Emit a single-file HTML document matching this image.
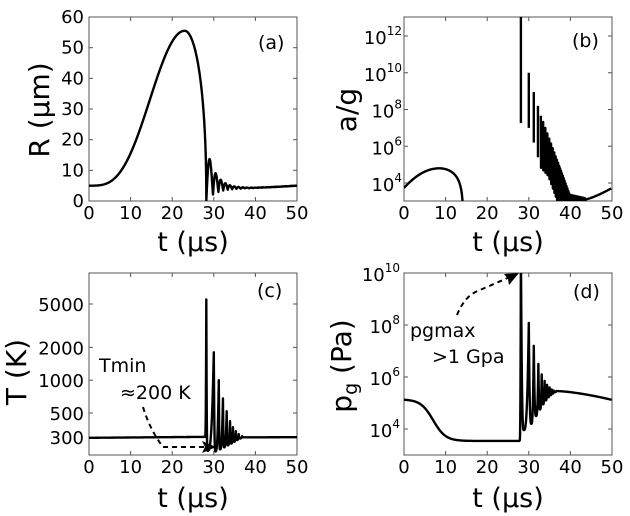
<!DOCTYPE html>
<html><head><meta charset="utf-8"><style>
html,body{margin:0;padding:0;background:#fff}
svg{display:block}
text{font-family:"DejaVu Sans","Liberation Sans",sans-serif;fill:#000}
</style></head><body>
<svg id="s" width="630" height="516" viewBox="0 0 630 516" xmlns="http://www.w3.org/2000/svg">
<defs>
<clipPath id="cA"><rect x="89" y="17" width="208" height="184"/></clipPath>
<clipPath id="cB"><rect x="404" y="17" width="208" height="184"/></clipPath>
<clipPath id="cC"><rect x="89" y="273" width="208" height="182"/></clipPath>
<clipPath id="cD"><rect x="404" y="273" width="208" height="182"/></clipPath>
</defs>
<g id="g"></g>
<text x="258" y="49" font-size="19">(a)</text>
<text x="572" y="47" font-size="19">(b)</text>
<text x="257" y="297" font-size="19">(c)</text>
<text x="573" y="298" font-size="19">(d)</text>
<text x="193" y="251" font-size="27" text-anchor="middle">t (µs)</text>
<text x="508" y="251" font-size="27" text-anchor="middle">t (µs)</text>
<text x="193" y="507" font-size="27" text-anchor="middle">t (µs)</text>
<text x="508" y="507" font-size="27" text-anchor="middle">t (µs)</text>
<text transform="translate(49,110) rotate(-90)" font-size="28" text-anchor="middle">R (µm)</text>
<text transform="translate(356,110) rotate(-90)" font-size="28" text-anchor="middle">a/g</text>
<text transform="translate(26,372) rotate(-90)" font-size="28" text-anchor="middle">T (K)</text>
<text transform="translate(351,366) rotate(-90)" font-size="28" text-anchor="middle">p<tspan font-size="19" dy="6">g</tspan><tspan dy="-6"> (Pa)</tspan></text>
<text x="99" y="372" font-size="19">Tmin</text>
<text x="120" y="399" font-size="19">≈200 K</text>
<path d="M143,407 Q150,430 163,447 L207,447" fill="none" stroke="#000" stroke-width="2" stroke-dasharray="5,4"/>
<polygon points="216,447 202,441 205,447 202,453" fill="#000"/>
<text x="410" y="337" font-size="19">pgmax</text>
<text x="432" y="363" font-size="19">&gt;1 Gpa</text>
<path d="M457,315 Q465,295 480,290 L510,277" fill="none" stroke="#000" stroke-width="2" stroke-dasharray="5,4"/>
<polygon points="519,273 504,274 508,279 509,285" fill="#000"/>
</svg>
<script>
(function(){
var NS="http://www.w3.org/2000/svg",G=document.getElementById('g');
function el(n,a,p){var e=document.createElementNS(NS,n);for(var k in a)e.setAttribute(k,a[k]);(p||G).appendChild(e);return e;}
function txt(x,y,s,anchor,fs){var e=el('text',{x:x,y:y,'font-size':fs||18,'text-anchor':anchor||'middle'});e.textContent=s;return e;}
function pow10(x,y,ex){var e=el('text',{x:x,y:y,'font-size':18,'text-anchor':'end'});e.innerHTML='10<tspan font-size="12" dy="-9">'+ex+'</tspan>';}
var P={A:[89,297,17,201],B:[404,612,17,201],C:[89,297,273,455],D:[404,612,273,455]};
function frame(p,yt){var x0=p[0],x1=p[1],y0=p[2],y1=p[3];
 el('rect',{x:x0,y:y0,width:x1-x0,height:y1-y0,fill:'none',stroke:'#555',"stroke-width":1});
 for(var i=0;i<=5;i++){var x=x0+(x1-x0)*i/5;el('line',{x1:x,y1:y1,x2:x,y2:y1-4,stroke:'#555'});el('line',{x1:x,y1:y0,x2:x,y2:y0+4,stroke:'#555'});txt(x,y1+18,String(i*10));}
 yt.forEach(function(y){el('line',{x1:x0,y1:y,x2:x0+4,y2:y,stroke:'#555'});el('line',{x1:x1,y1:y,x2:x1-4,y2:y,stroke:'#555'});});}
frame(P.A,[201,170.3,139.7,109,78.3,47.7,17]);
[0,10,20,30,40,50,60].forEach(function(v,i){txt(84,201-i*30.67+6,String(v),'end');});
var yB=function(v){return 183-(v-4)*18.375};
frame(P.B,[yB(4),yB(6),yB(8),yB(10),yB(12)]);
[4,6,8,10,12].forEach(function(v){pow10(402,yB(v)+8,v)});
var yC=function(T){return 304-(Math.log10(T)-Math.log10(5000))*109};
frame(P.C,[5000,2000,1000,500,300].map(yC));
[5000,2000,1000,500,300].forEach(function(v){txt(84,yC(v)+7,String(v),'end')});
var yD=function(v){return 429-(v-4)*26};
frame(P.D,[yD(4),yD(6),yD(8),yD(10)]);
[4,6,8,10].forEach(function(v){pow10(400,yD(v)+8,v)});
function path(pts,clip,p,yf){var x0=p[0],x1=p[1];var d='';pts.forEach(function(q,i){d+=(i?'L':'M')+(x0+(x1-x0)*q[0]/50).toFixed(2)+','+yf(q[1]).toFixed(2)});
 el('path',{d:d,fill:'none',stroke:'#000','stroke-width':2.4,'stroke-linejoin':'round','clip-path':'url(#'+clip+')'});}
var pa=[],t;
for(t=0;t<=23;t+=0.1){var c=(1-Math.cos(Math.PI*t/23))/2;pa.push([t,5+50.5*Math.pow(c,1.7)]);}
for(t=23;t<28.2;t+=0.02){var s=(t-23)/5.2;pa.push([t,55.5*Math.pow(Math.max(0,1-s*s),0.45)]);}
pa.push([28.2,0]);
var ph=0,dt=0.005;
for(t=28.2;t<=50;t+=dt){var u=t-28.2;var base=4+Math.pow(u/21.8,2);var env=Math.exp(-u/2.2);
 pa.push([t,base+env*(18*Math.abs(Math.sin(ph))-base)]);ph+=Math.PI*dt/(1.0+0.9*Math.exp(-u/2));}
path(pa,'cA',P.A,function(v){return 201-v*184/60});
var pb=[];
for(t=0;t<=14.5;t+=0.05){var v;if(t<8.5){v=4.8-1.07*Math.pow((8.5-t)/8.5,2);}else{var s2=(t-8.5)/5.75;v=4.8+1.5*Math.log10(Math.max(1-s2*s2,1e-4));}pb.push([t,v]);}
path(pb,'cB',P.B,yB);
[[28.1,14,7.26],[30.0,10.0,7.0],[31.2,8.95,6.2],[32.2,8.2,5.4]].forEach(function(s){path([[s[0],s[1]],[s[0],s[2]]],'cB',P.B,yB)});
var zz=[],tt=32.9,k=0;
while(tt<43.5){var tp=Math.max(7.6-(tt-33)*0.62,3.4-(tt-39)*0.05);var bt=Math.min(tp-2.2,4.8-(tt-33)*0.25);zz.push([tt,tp]);zz.push([tt+0.04,bt]);tt+=Math.max(0.22,0.55-0.03*k);k++;}
zz.push([43.5,3.1]);
for(t=43.6;t<=50;t+=0.2){zz.push([t,3.1+0.63*Math.pow((t-43.5)/6.5,1.3)]);}
path(zz,'cB',P.B,yB);
function ext(E,step){var out=[];for(var i=0;i<E.length-1;i++){var a=E[i],b=E[i+1],lin=b[2];
 for(var x=a[0];x<b[0];x+=step){var u=(x-a[0])/(b[0]-a[0]),v;
  if(lin)v=a[1]+(b[1]-a[1])*u;else if(b[1]>a[1])v=a[1]+(b[1]-a[1])*Math.pow(u,3);else v=b[1]+(a[1]-b[1])*Math.pow(1-u,3);
  out.push([x,v]);}}out.push([E[E.length-1][0],E[E.length-1][1]]);return out;}
var L=Math.log10;
var EC=[[0,L(296)],[27.9,L(302),1],[28.2,L(5500)],[28.5,L(225)],[30.0,L(1800)],[30.4,L(222)],[31.2,L(1000)],[31.5,L(232)],[32.2,L(680)],[32.5,L(242)],[33.1,L(520)],[33.4,L(252)],[33.9,L(420)],[34.2,L(262)],[34.6,L(370)],[34.9,L(272)],[35.3,L(340)],[35.6,L(283)],[36,L(320)],[36.3,L(292)],[36.8,L(306)],[37.3,L(299)],[50,L(300),1]];
path(ext(EC,0.01),'cC',P.C,function(v){return yC(Math.pow(10,v))});
var pd=[];for(t=0;t<27.8;t+=0.1){pd.push([t,3.54+1.6/(1+Math.exp((t-7)/1.5))]);}
var ED=[[27.8,3.56],[28.1,11],[28.8,3.96],[30.0,8.08],[30.6,4.2],[31.2,7.2],[31.75,4.5],[32.3,6.5],[32.7,4.75],[33.1,6.1],[33.45,4.95],[33.8,5.85],[34.1,5.1],[34.4,5.7],[34.7,5.22],[35,5.6],[35.25,5.3],[35.5,5.52],[35.75,5.36],[36,5.48],[36.3,5.42],[36.6,5.46]];
pd=pd.concat(ext(ED,0.01));
for(t=36.7;t<=50;t+=0.1){pd.push([t,5.46-0.34*Math.pow((t-36.6)/13.4,1.5)]);}
path(pd,'cD',P.D,yD);
})();
</script>
</body></html>
